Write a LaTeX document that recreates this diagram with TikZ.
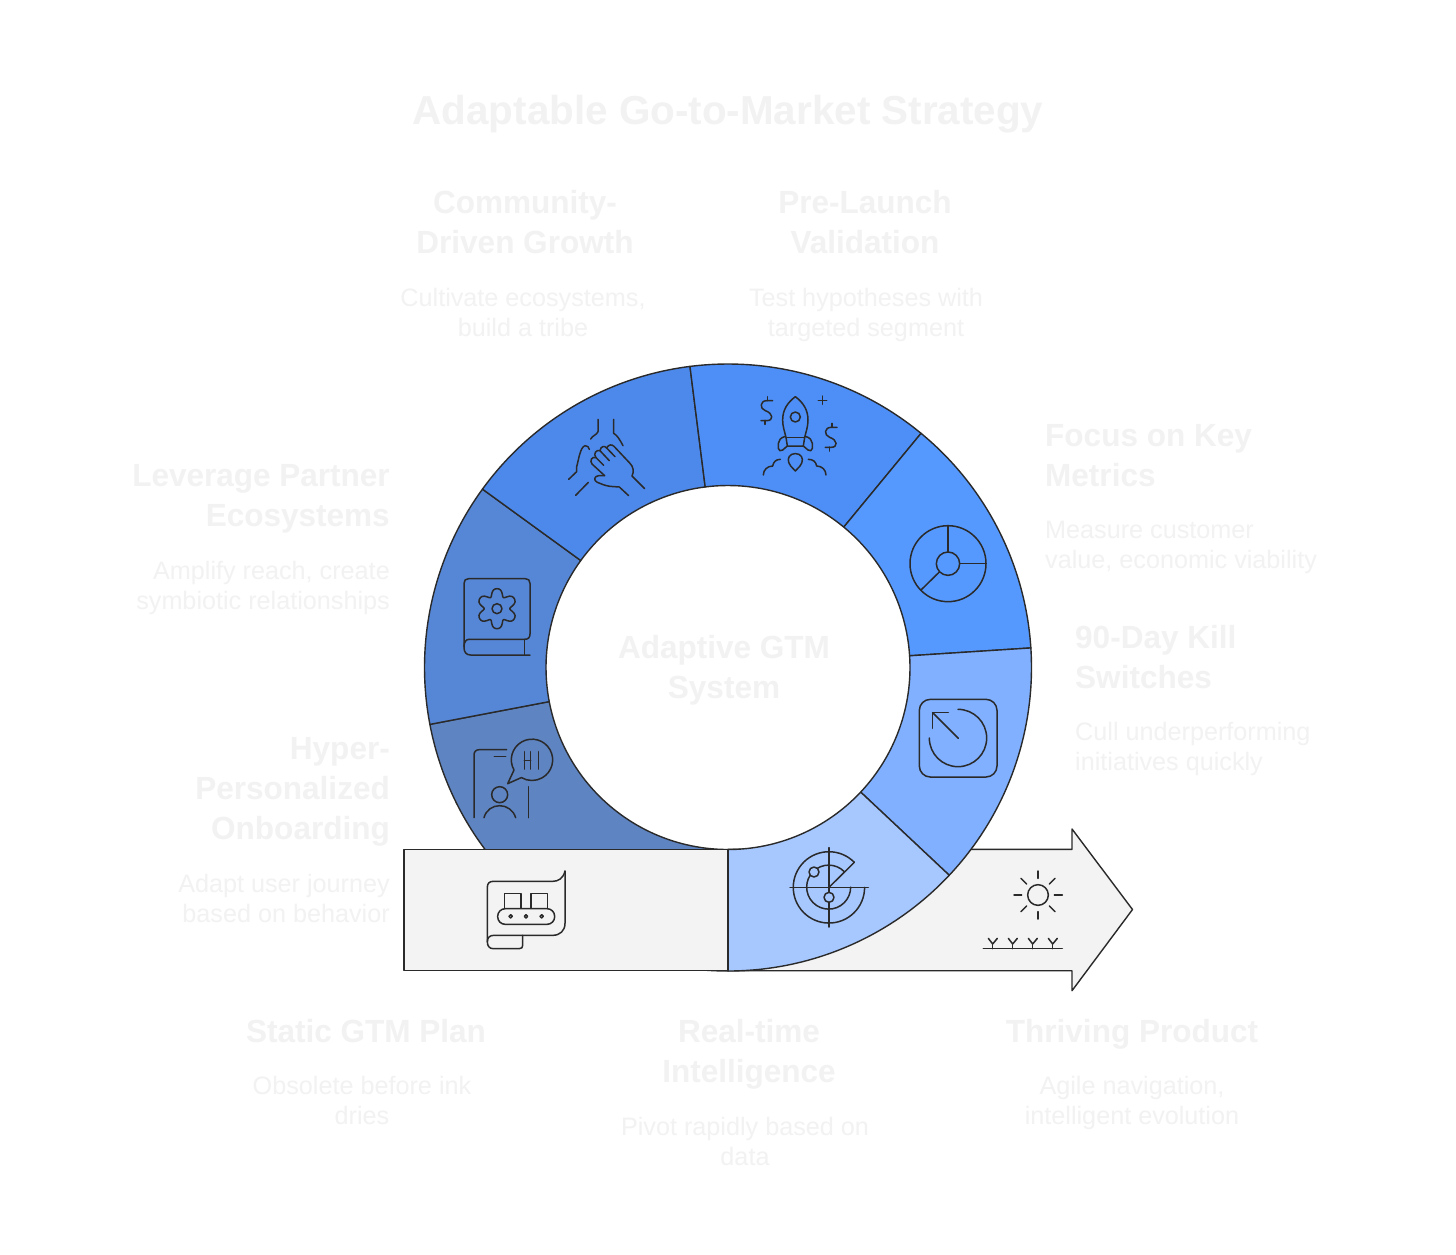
\documentclass[tikz,border=0pt]{standalone}
\usepackage{fontspec}
\setmainfont{Liberation Sans}
\newfontfamily\headfont{Liberation Sans}[FakeStretch=0.985]
\definecolor{inkc}{HTML}{2A2A2A}
\definecolor{faintc}{HTML}{F2F2F2}
\definecolor{arrowc}{HTML}{F3F3F3}
\definecolor{segA}{HTML}{A7C8FF}
\definecolor{segB}{HTML}{80B0FF}
\definecolor{segC}{HTML}{5599FF}
\definecolor{segD}{HTML}{4D8FF6}
\definecolor{segE}{HTML}{4D89EB}
\definecolor{segF}{HTML}{5687D6}
\definecolor{segG}{HTML}{5E84C2}
\newcommand{\ringseg}[3]{\path[ringline,fill=#1] (#2:303.5) arc[start angle=#2,end angle=#3,radius=303.5] -- (#3:182) arc[start angle=#3,end angle=#2,radius=182] -- cycle;}
\tikzset{
  ringline/.style={draw=inkc,line width=1.4pt,line join=round},
  iconline/.style={draw=inkc,line width=1.5pt,line cap=round,line join=round},
  faintnode/.style={text=faintc,inner sep=0pt,execute at begin node=\strut,execute at end node=\strut},
  titletext/.style={faintnode,font=\fontsize{40.4}{44}\selectfont\bfseries,align=center},
  headtext/.style={faintnode,font=\fontsize{32}{40}\selectfont\headfont\bfseries},
  desctext/.style={faintnode,font=\fontsize{25.2}{30}\selectfont},
  zoomA/.style={shift={(400,360)},x=0.33333pt,y=-0.33333pt},
  zoomB/.style={shift={(700,360)},x=0.33333pt,y=-0.33333pt},
  zoomC/.style={shift={(400,690)},x=0.33333pt,y=-0.33333pt},
  zoomD/.style={shift={(730,670)},x=0.33333pt,y=-0.33333pt},
}
\begin{document}
\begin{tikzpicture}[x=1pt,y=-1pt]
\fill[white] (0,0) rectangle (1456,1254);
\useasboundingbox (0,0) rectangle (1456,1254);

% arrow behind the ring
\path[ringline,fill=arrowc] (728,849.3) -- (1072,849.3) -- (1072,829) -- (1132.5,909.5) -- (1072,990.7) -- (1072,970.7) -- (728,970.7) -- cycle;

% ring
\begin{scope}[shift={(728,667.5)},x=1pt,y=1pt]
\ringseg{segG}{190.8}{270}
\ringseg{segF}{144}{190.8}
\ringseg{segE}{97.2}{144}
\ringseg{segD}{50.5}{97.2}
\ringseg{segC}{3.7}{50.5}
\ringseg{segB}{-43.2}{3.7}
\ringseg{segA}{-90}{-43.2}
\end{scope}

% static block
\path[ringline,fill=arrowc] (404,849.3) rectangle (728,970.7);

% hands icon
\begin{scope}[zoomA,iconline]
\draw (594,178) -- (594,215) .. controls (590,225) and (578,226) .. (572,237);
\draw (641,178) -- (641,220) .. controls (652,226) and (660,240) .. (669,257);
\draw (506,358) -- (530,335) -- (530,320) .. controls (536,300) and (540,262) .. (555,257) .. controls (562,256) and (567,262) .. (568,268);
\draw (527,406) -- (565,367);
\draw (614,347) -- (576,312) .. controls (568,302) and (576,288) .. (588,293) .. controls (578,280) and (590,268) .. (600,272) .. controls (602,258) and (614,256) .. (620,264) .. controls (626,252) and (636,253) .. (642,259) -- (690,310) .. controls (700,320) and (703,335) .. (696,348) -- (734,386);
\draw (588,293) -- (611,316);
\draw (600,272) -- (628,302);
\draw (620,264) -- (645,290);
\draw (614,347) -- (596,347) .. controls (582,348) and (580,362) .. (592,367) .. controls (605,372) and (615,377) .. (630,379) -- (658,381) -- (686,407);
\end{scope}

% book and gear icon
\begin{scope}[zoomA,iconline]
\draw (207,838) -- (374,838) .. controls (385,838) and (390,832) .. (390,822) -- (390,670) .. controls (390,661) and (385,656) .. (376,656) -- (206,656) .. controls (197,656) and (192,661) .. (192,670) -- (192,862) .. controls (192,876) and (198,885) .. (212,885) -- (390,885);
\draw (207,838) .. controls (198,838) and (192,846) .. (192,860);
\draw (374,838) -- (374,885);
\draw (291,746) circle[radius=15];
\draw plot[smooth cycle,samples=72,domain=0:355] ({291+(51+11*cos(6*(\x-90))-2*cos(12*(\x-90)))*cos(\x)},{746-(51+11*cos(6*(\x-90))-2*cos(12*(\x-90)))*sin(\x)});
\end{scope}

% rocket icon
\begin{scope}[zoomB,iconline]
\draw (286,110) .. controls (262,128) and (248,150) .. (248,180) .. controls (248,200) and (254,215) .. (258,232) -- (262,258) -- (310,258) -- (314,232) .. controls (318,215) and (324,200) .. (324,180) .. controls (324,150) and (310,128) .. (286,110) -- cycle;
\draw (258,232) -- (314,232);
\draw (286,171) circle[radius=15];
\draw (256,229) .. controls (242,233) and (236,240) .. (235,250) -- (235,265) .. controls (236,272) and (242,275) .. (248,270) -- (262,258);
\draw (316,229) .. controls (330,233) and (336,240) .. (337,250) -- (337,265) .. controls (336,272) and (330,275) .. (324,270) -- (310,258);
\draw (286,333) -- (272,318) .. controls (262,305) and (262,290) .. (275,283) .. controls (282,280) and (290,280) .. (297,283) .. controls (310,290) and (310,305) .. (300,318) -- cycle;
\draw (190,345) .. controls (190,330) and (202,318) .. (218,318) .. controls (220,306) and (228,298) .. (241,298);
\draw (378,345) .. controls (378,330) and (366,318) .. (350,318) .. controls (348,306) and (340,298) .. (325,298);
\foreach \dx/\dy in {0/0,193/80}{
\begin{scope}[shift={(\dx,\dy)}]
\draw (203,110) -- (203,122);
\draw (195,181) -- (195,193);
\draw (218,122) -- (200,122) .. controls (180,122) and (178,146) .. (196,152) .. controls (220,160) and (222,182) .. (200,182) -- (183,182);
\end{scope}}
\draw (367,108) -- (367,133);
\draw (355,121) -- (380,121);
% dial icon
\draw (744,611) circle[radius=114];
\draw (744,611) circle[radius=35];
\draw (744,497) -- (744,576);
\draw (779,611) -- (858,611);
\draw (718,636) -- (663,690);
\end{scope}

% person and speech bubble icon
\begin{scope}[zoomC,iconline]
\draw (222,383) -- (222,195) .. controls (222,185) and (228,179) .. (238,179) -- (320,179);
\draw (283,200) -- (317,200);
\draw (385,290) -- (385,383);
\draw (299,314) circle[radius=24];
\draw (252,383) .. controls (258,360) and (278,347) .. (299,347) .. controls (320,347) and (340,360) .. (347,383);
\draw (342,240) arc[start angle=150.5,end angle=480.9,radius=62] -- (323,281) -- cycle;
\draw (373,185) -- (373,237);
\draw (392,185) -- (392,237);
\draw (373,211) -- (392,211);
\draw (415,185) -- (415,237);
\end{scope}

% conveyor scroll icon
\begin{scope}[zoomC,iconline]
\draw (495,543) .. controls (490,565) and (475,574) .. (458,574) -- (280,574) .. controls (268,574) and (262,580) .. (262,592) -- (262,755) .. controls (262,768) and (268,776) .. (280,776) -- (358,776) .. controls (365,776) and (368,772) .. (368,766) -- (368,736);
\draw (262,755) .. controls (262,742) and (270,736) .. (282,736) -- (458,736) .. controls (480,736) and (495,722) .. (495,700) -- (495,543);
\draw (314,655) -- (314,610) -- (363,610) -- (363,655);
\draw (393,655) -- (393,610) -- (443,610) -- (443,655);
\draw[rounded corners=7.6pt] (293,656) rectangle (464,703);
\draw (332,679) circle[radius=5];
\draw (378,679) circle[radius=5];
\draw (425,679) circle[radius=5];
\end{scope}

% reset, radar and sun icons
\begin{scope}[zoomD,iconline]
\draw[rounded corners=11pt] (568,88) rectangle (801,321);
\draw (684,118) arc[start angle=270,end angle=540,radius=86];
\draw (685,205) -- (608,128);
\draw (608,128) -- (655,128);
\draw (608,128) -- (608,175);
% radar
\draw (373,577) arc[start angle=315.4,end angle=0,radius=107];
\draw (343,605) arc[start angle=315.4,end angle=0,radius=66];
\draw (373,577) -- (297,652);
\draw (297,533) -- (297,771);
\draw (180,652) -- (415,652);
\draw[fill=segA] (252,606) circle[radius=15];
\draw[fill=segA] (297,682) circle[radius=15];
% sun
\draw (924,675) circle[radius=31];
\draw (924,603) -- (924,625);
\draw (924,725) -- (924,747);
\draw (852,675) -- (875,675);
\draw (973,675) -- (997,675);
\draw (873,625) -- (890,642);
\draw (975,625) -- (958,642);
\draw (873,725) -- (890,708);
\draw (975,725) -- (958,708);
\draw (760,836) -- (997,836);
\foreach \sx in {788,848,908,968}{
\draw (\sx,836) -- (\sx,822);
\draw (\sx-13,805) -- (\sx,822) -- (\sx+14,805);
}
\end{scope}

% texts
\node[titletext] (title) at (728,115.4) {Adaptable Go-to-Market Strategy};
\node[headtext,align=center] (community) at (525,228) {Community-\\Driven Growth};
\node[desctext,align=center] (communityd) at (523,317) {Cultivate ecosystems,\\build a tribe};
\node[headtext,align=center] (prelaunch) at (865,228) {Pre-Launch\\Validation};
\node[desctext,align=center] (prelaunchd) at (866,317) {Test hypotheses with\\targeted segment};
\node[headtext,align=left,anchor=west] (focus) at (1045,461) {Focus on Key\\Metrics};
\node[desctext,align=left,anchor=west] (focusd) at (1045,549.5) {Measure customer\\value, economic viability};
\node[headtext,align=left,anchor=west] (kill) at (1075,663) {90-Day Kill\\Switches};
\node[desctext,align=left,anchor=west] (killd) at (1075,751) {Cull underperforming\\initiatives quickly};
\node[headtext,align=right,anchor=east] (partner) at (390,501) {Leverage Partner\\Ecosystems};
\node[desctext,align=right,anchor=east] (partnerd) at (390,589.5) {Amplify reach, create\\symbiotic relationships};
\node[headtext,align=right,anchor=east] (hyper) at (390,794) {Hyper-\\Personalized\\Onboarding};
\node[desctext,align=right,anchor=east] (hyperd) at (390,903) {Adapt user journey\\based on behavior};
\node[headtext,align=center] (static) at (366,1034) {Static GTM Plan};
\node[desctext,align=center] (staticd) at (362,1105) {Obsolete before ink\\dries};
\node[headtext,align=center] (realtime) at (749,1057) {Real-time\\Intelligence};
\node[desctext,align=center] (realtimed) at (745,1146) {Pivot rapidly based on\\data};
\node[headtext,align=center] (thriving) at (1132,1034) {Thriving Product};
\node[desctext,align=center] (thrivingd) at (1132,1105) {Agile navigation,\\intelligent evolution};
\node[headtext,align=center] (core) at (724,673) {Adaptive GTM\\System};
\end{tikzpicture}
\end{document}
